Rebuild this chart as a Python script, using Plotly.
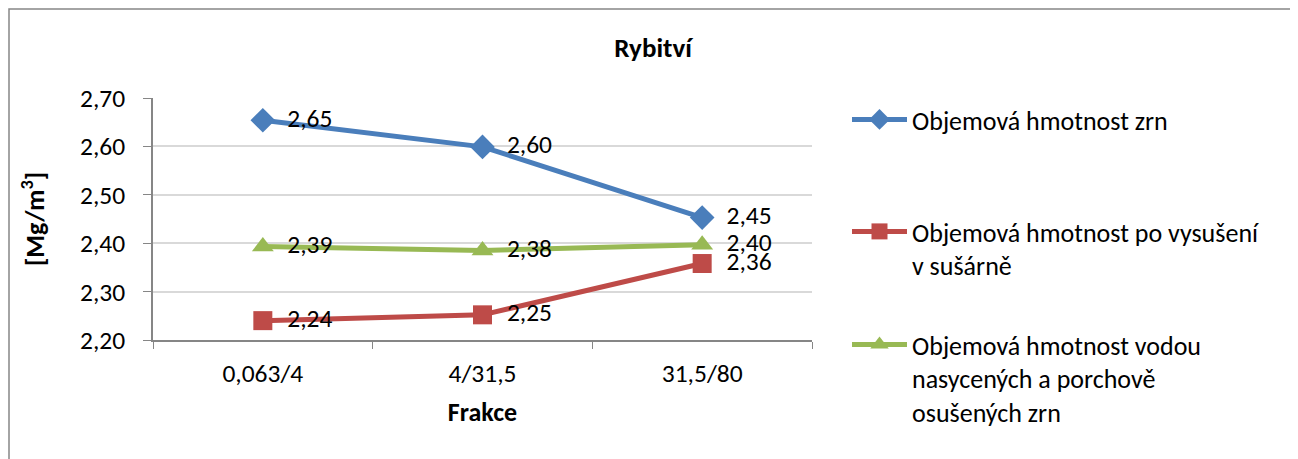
import plotly.graph_objects as go

FONT = "Carlito, Calibri, Lato, sans-serif"

categories = ["0,063/4", "4/31,5", "31,5/80"]

grain_density = [2.654, 2.599, 2.453]
dried_density = [2.240, 2.252, 2.358]
saturated_density = [2.393, 2.385, 2.397]

grain_labels = ["2,65", "2,60", "2,45"]
dried_labels = ["2,24", "2,25", "2,36"]
saturated_labels = ["2,39", "2,38", "2,40"]

series_names = [
    "Objemová hmotnost zrn",
    "Objemová hmotnost po vysušení<br>v sušárně",
    "Objemová hmotnost vodou<br>nasycených a porchově<br>osušených zrn",
]

y_ticks = [2.2, 2.3, 2.4, 2.5, 2.6, 2.7]

# page body has an 8px margin, so the figure is a bit smaller than the window
W, H = 1290, 451


def add_series(fig, values, labels, name, color, symbol, legend_id):
    fig.add_trace(go.Scatter(
        x=categories,
        y=values,
        mode="lines+markers+text",
        name=name,
        text=["\u00a0\u00a0" + t for t in labels],
        textposition="middle right",
        textfont=dict(family=FONT, size=25.5, color="#000000"),
        line=dict(color=color, width=5),
        marker=dict(symbol=symbol, size=19, color=color),
        legend=legend_id,
        cliponaxis=False,
    ))


fig = go.Figure()
add_series(fig, grain_density, grain_labels, series_names[0], "#4A7EBB", "diamond", "legend")
add_series(fig, dried_density, dried_labels, series_names[1], "#BE4B48", "square", "legend2")
add_series(fig, saturated_density, saturated_labels, series_names[2], "#98B954", "triangle-up", "legend3")

legend_style = dict(
    xref="container", yref="container", x=839 / W, xanchor="left",
    yanchor="top", valign="top", itemwidth=55,
    font=dict(family=FONT, size=26, color="#000000"),
    bgcolor="rgba(0,0,0,0)",
)

fig.update_layout(
    width=W,
    height=H,
    showlegend=True,
    separators=", ",
    plot_bgcolor="#FFFFFF",
    paper_bgcolor="#FFFFFF",
    font=dict(family=FONT, size=25.5, color="#000000"),
    margin=dict(l=145, r=486, t=90, b=119),
    title=dict(text="<b>Rybitví</b>", x=0.5, xanchor="center", xref="container",
               y=1 - 40 / H, yanchor="middle", yref="container",
               font=dict(family=FONT, size=27, color="#000000")),
    xaxis=dict(
        type="category", range=[-0.5, 2.5],
        showline=True, linecolor="#868686", linewidth=1.5,
        ticks="outside", tickson="boundaries", ticklen=7, tickcolor="#868686",
        showgrid=False, ticklabelstandoff=10,
        tickfont=dict(family=FONT, size=25.5),
        title=dict(text="<b>Frakce</b>", standoff=14, font=dict(family=FONT, size=26)),
    ),
    yaxis=dict(
        range=[2.2, 2.7], tickvals=y_ticks, tickformat=".2f",
        showline=True, linecolor="#868686", linewidth=1.5,
        ticks="outside", ticklen=8, tickcolor="#868686",
        showgrid=True, gridcolor="#D9D9D9", gridwidth=1.5,
        zeroline=False, ticklabelstandoff=13,
        tickfont=dict(family=FONT, size=25.5),
        title=dict(text="<b>[Mg/m<sup>3</sup>]</b>", standoff=28, font=dict(family=FONT, size=26)),
    ),
    legend=dict(legend_style, y=1 - 88 / H),
    legend2=dict(legend_style, y=1 - 200 / H),
    legend3=dict(legend_style, y=1 - 313 / H),
    shapes=[dict(
        type="rect", xref="paper", yref="paper",
        x0=(1 - 145) / 659, x1=(1283 - 145) / 659, y0=-0.55, y1=(332 - 1) / 242,
        line=dict(color="#868686", width=1.5), fillcolor="rgba(0,0,0,0)", layer="below",
    )],
)

fig.write_html("out.html")
